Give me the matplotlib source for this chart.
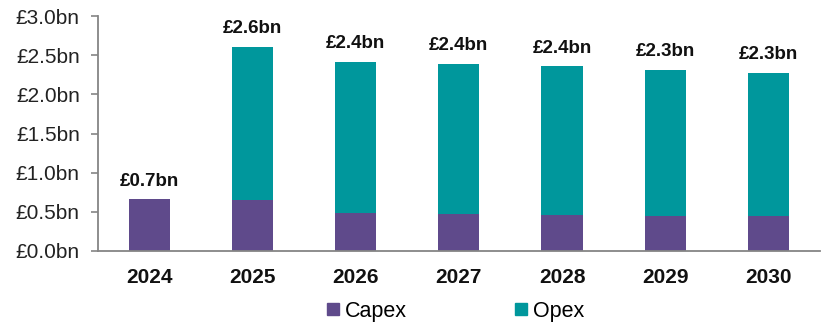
import matplotlib
matplotlib.use("Agg")
import matplotlib.pyplot as plt
from matplotlib.lines import Line2D

years = ["2024", "2025", "2026", "2027", "2028", "2029", "2030"]
capex = [0.66, 0.65, 0.48, 0.47, 0.46, 0.45, 0.45]
opex = [0.00, 1.96, 1.94, 1.92, 1.90, 1.86, 1.83]
y_ticks = [0.0, 0.5, 1.0, 1.5, 2.0, 2.5, 3.0]

capex_color = "#5F4A8B"
opex_color = "#00979C"
axis_color = "#858585"

plt.rcParams["font.family"] = ["Liberation Sans", "DejaVu Sans"]

fig = plt.figure(figsize=(8.29, 3.23), dpi=100)
ax = fig.add_axes([0.118, 0.223, 0.871, 0.727])

x = range(len(years))
ax.bar(x, capex, width=0.4, color=capex_color, label="Capex")
ax.bar(x, opex, width=0.4, bottom=capex, color=opex_color, label="Opex")

totals = [c + o for c, o in zip(capex, opex)]
for i, t in enumerate(totals):
    ax.annotate(f"£{t:.1f}bn", (i, t), xytext=(0, 7), textcoords="offset points",
                ha="center", va="bottom", fontsize=13.5, fontweight="bold", color="#111111")

ax.set_xlim(-0.5, len(years) - 0.5)
ax.set_ylim(0, 3.0)
ax.set_yticks(y_ticks)
ax.set_yticklabels([f"£{v:.1f}bn" for v in y_ticks], fontsize=15, color="#222222")
ax.set_xticks(list(x))
ax.set_xticklabels(years, fontsize=15, fontweight="bold", color="#111111")
ax.tick_params(axis="x", length=0, pad=12)
ax.tick_params(axis="y", length=5, width=1.2, color=axis_color, pad=8, direction="out")

for side in ("top", "right"):
    ax.spines[side].set_visible(False)
for side in ("left", "bottom"):
    ax.spines[side].set_color(axis_color)
    ax.spines[side].set_linewidth(1.3)

handles = [Line2D([], [], marker="s", linestyle="none", markersize=8.5, color=capex_color),
           Line2D([], [], marker="s", linestyle="none", markersize=8.5, color=opex_color)]
fig.legend(handles, ["Capex", "Opex"], loc="center left", bbox_to_anchor=(0.394, 0.037),
           ncol=2, frameon=False, fontsize=15.5, handlelength=0.6, handletextpad=0.25,
           columnspacing=5.0, borderaxespad=0, borderpad=0)

fig.savefig("out.png", dpi=100)
